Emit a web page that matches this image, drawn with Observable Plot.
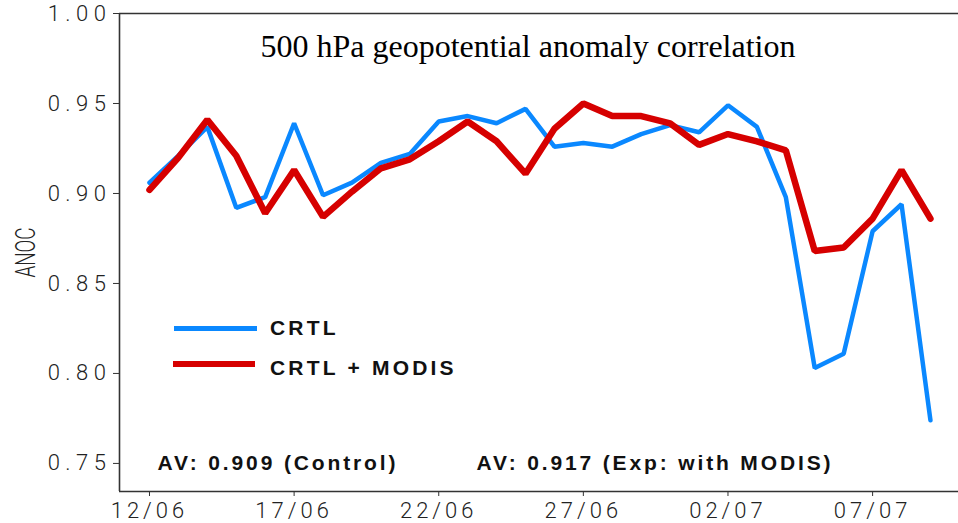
<!DOCTYPE html>
<html>
<head>
<meta charset="utf-8">
<script src="https://cdn.jsdelivr.net/npm/d3@7"></script>
<script src="https://cdn.jsdelivr.net/npm/@observablehq/plot@0.6"></script>
<style>
  body { margin: 0; background: #fff; }
  #chart { position: relative; width: 958px; height: 523px; overflow: hidden; }
  .key { position: absolute; font: bold 21px "Liberation Sans", Arial, sans-serif; letter-spacing: 3.2px; color: #111; line-height: 20px; white-space: nowrap; }
  .swatch { position: absolute; }
</style>
</head>
<body>
<div id="chart"></div>
<script>
// Daily forecast verification dates
const days = [
  "2010-06-12","2010-06-13","2010-06-14","2010-06-15","2010-06-16","2010-06-17","2010-06-18",
  "2010-06-19","2010-06-20","2010-06-21","2010-06-22","2010-06-23","2010-06-24","2010-06-25",
  "2010-06-26","2010-06-27","2010-06-28","2010-06-29","2010-06-30","2010-07-01","2010-07-02",
  "2010-07-03","2010-07-04","2010-07-05","2010-07-06","2010-07-07","2010-07-08","2010-07-09"
];
// Anomaly correlation, control run
const ctrl = [
  0.906, 0.921, 0.937, 0.892, 0.898, 0.939, 0.899,
  0.906, 0.917, 0.922, 0.940, 0.943, 0.939, 0.947,
  0.926, 0.928, 0.926, 0.933, 0.938, 0.934, 0.949,
  0.937, 0.898, 0.803, 0.811, 0.879, 0.894, 0.774
];
// Anomaly correlation, experiment with MODIS
const modis = [
  0.902, 0.920, 0.941, 0.921, 0.889, 0.913, 0.887,
  0.901, 0.914, 0.919, 0.929, 0.940, 0.929, 0.911,
  0.936, 0.950, 0.943, 0.943, 0.939, 0.927, 0.933,
  0.929, 0.924, 0.868, 0.870, 0.886, 0.913, 0.886
];
const seriesNames = ["CRTL", "CRTL + MODIS"];
const seriesColors = ["#0a88ff", "#d60000"];
const tickDays = ["2010-06-12","2010-06-17","2010-06-22","2010-06-27","2010-07-02","2010-07-07"];
const tickLabels = ["12/06","17/06","22/06","27/06","02/07","07/07"];
const yTicks = [0.75, 0.80, 0.85, 0.90, 0.95, 1.00];
const averages = ["AV: 0.909 (Control)", "AV: 0.917 (Exp: with MODIS)"];
const title = "500 hPa geopotential anomaly correlation";
const yLabel = "ANOC";

const DAY = 864e5;
const rows = days.map((d, i) => ({date: new Date(d), ctrl: ctrl[i], modis: modis[i]}));
const t0 = new Date(days[0]).getTime();
const xDomain = [new Date(t0 - 1.037 * DAY), new Date(t0 + 27.97 * DAY)];
const yDomain = [0.7344, 1.0];
const tickDates = tickDays.map(d => new Date(d));
const tickName = new Map(tickDates.map((d, i) => [d.getTime(), tickLabels[i]]));

const axisColor = "#333";
const thinFont = "Roboto, 'Liberation Sans', sans-serif";

const plot = Plot.plot({
  width: 958,
  height: 523,
  marginLeft: 119,
  marginRight: 0,
  marginTop: 13,
  marginBottom: 32,
  x: {type: "utc", domain: xDomain},
  y: {domain: yDomain},
  style: {background: "#fff", color: "#222", overflow: "visible"},
  marks: [
    Plot.ruleY([yDomain[1]], {stroke: axisColor, strokeWidth: 1.6}),
    Plot.ruleY([yDomain[0]], {stroke: axisColor, strokeWidth: 1.6}),
    Plot.ruleX([xDomain[0]], {stroke: axisColor, strokeWidth: 1.6}),
    Plot.axisY({
      ticks: yTicks, tickFormat: d3.format(".2f"), tickSize: 6, tickPadding: 2,
      fontSize: 22, fontFamily: thinFont, fontWeight: 300, stroke: axisColor, label: null
    }),
    Plot.axisX({
      ticks: tickDates, tickFormat: d => tickName.get(d.getTime()), tickSize: 5, tickPadding: 6,
      fontSize: 22, fontFamily: thinFont, fontWeight: 300, stroke: axisColor, label: null
    }),
    Plot.line(rows, {x: "date", y: "ctrl", stroke: seriesColors[0], strokeWidth: 4.5, strokeLinejoin: "miter", curve: "linear"}),
    Plot.line(rows, {x: "date", y: "modis", stroke: seriesColors[1], strokeWidth: 6.5, strokeLinejoin: "miter", curve: "linear"}),
    Plot.text([title], {
      frameAnchor: "top-left", textAnchor: "start", lineAnchor: "top", dx: 141, dy: 21,
      fontSize: 32, fontFamily: "'Liberation Serif', 'Times New Roman', serif", fill: "#000"
    }),
    Plot.text([averages[0]], {
      frameAnchor: "top-left", textAnchor: "start", lineAnchor: "top", dx: 38, dy: 442,
      fontSize: 21, fontWeight: "bold", fontFamily: "'Liberation Sans', Arial, sans-serif", fill: "#111"
    }),
    Plot.text([averages[1]], {
      frameAnchor: "top-left", textAnchor: "start", lineAnchor: "top", dx: 357, dy: 442,
      fontSize: 21, fontWeight: "bold", fontFamily: "'Liberation Sans', Arial, sans-serif", fill: "#111"
    }),
    Plot.text([yLabel], {
      frameAnchor: "left", textAnchor: "middle", lineAnchor: "middle", rotate: -90, dx: -93,
      fontSize: 28, fontFamily: thinFont, fontWeight: 300, fill: "#222"
    })
  ]
});

// Fit the free-standing texts to their set lengths
const svg = d3.select(plot);
const fit = (content, length, adjust) => svg.selectAll("text")
  .filter(function () { return this.textContent === content; })
  .attr("textLength", length)
  .attr("lengthAdjust", adjust);
fit(averages[0], 238, "spacing");
fit(averages[1], 354, "spacing");
fit(yLabel, 50, "spacingAndGlyphs");
svg.selectAll('[aria-label="y-axis tick label"] text').style("letter-spacing", "5.5px");
svg.selectAll('[aria-label="x-axis tick label"] text').style("letter-spacing", "4px");

const chart = document.getElementById("chart");
chart.appendChild(plot);

// Series key drawn over the plot area
const keyRows = [
  {top: 328, swLeft: 174, swWidth: 83, swHeight: 5, textTop: 318},
  {top: 364, swLeft: 173, swWidth: 82, swHeight: 6.5, textTop: 358}
];
seriesNames.forEach((name, i) => {
  const r = keyRows[i];
  const sw = document.createElement("div");
  sw.className = "swatch";
  sw.style.left = r.swLeft + "px";
  sw.style.width = r.swWidth + "px";
  sw.style.height = r.swHeight + "px";
  sw.style.top = (r.top - r.swHeight / 2) + "px";
  sw.style.background = seriesColors[i];
  chart.appendChild(sw);
  const label = document.createElement("div");
  label.className = "key";
  label.style.left = "270px";
  label.style.top = r.textTop + "px";
  label.textContent = name;
  chart.appendChild(label);
});
</script>
</body>
</html>
